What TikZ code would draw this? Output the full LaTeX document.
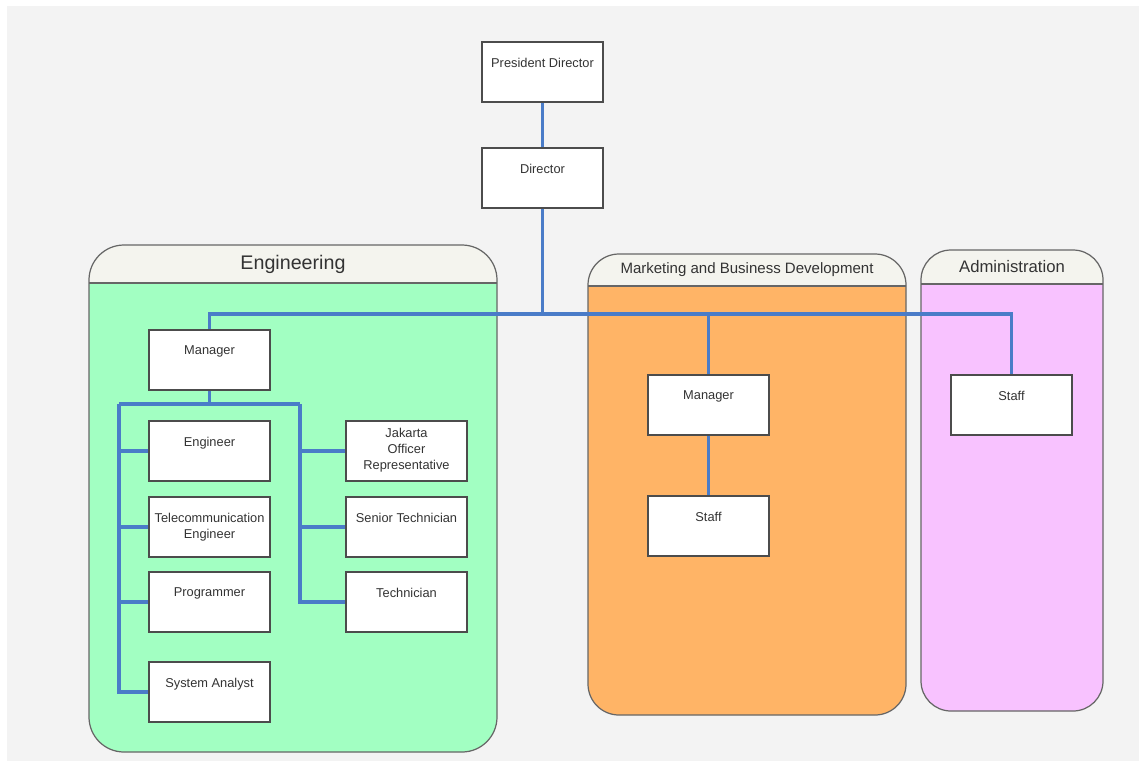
\documentclass[tikz,border=0pt]{standalone}
\usepackage{fontspec}
\setmainfont{Liberation Sans}
\usetikzlibrary{positioning}
\pgfdeclarelayer{background}
\pgfsetlayers{background,main}
\definecolor{bggray}{HTML}{F3F3F3}
\definecolor{engfill}{HTML}{A2FFC2}
\definecolor{mktfill}{HTML}{FFB466}
\definecolor{admfill}{HTML}{F8C2FF}
\definecolor{headfill}{HTML}{F4F4EE}
\definecolor{linkblue}{HTML}{4A7CC8}
\definecolor{inkgray}{HTML}{333333}
\tikzstyle{post}=[draw=black!70, fill=white, line width=0.8pt, minimum width=2.42cm, minimum height=1.2cm, inner sep=0pt]
\tikzstyle{post text}=[anchor=north, align=center, text=inkgray, font=\fontsize{7.3}{9.1}\selectfont, inner sep=0pt, yshift=-0.33cm]
\tikzstyle{edge}=[draw=linkblue, line width=2pt]
\tikzstyle{panel}=[draw=black!60, line width=0.7pt]
\tikzstyle{title}=[text=inkgray, inner sep=0pt]

\begin{document}
\begin{tikzpicture}[x=0.02cm, y=-0.02cm]
    \useasboundingbox (0,0) rectangle (1139,761);
    % Draw the department panels
    \begin{pgfonlayer}{background}
        \fill[bggray] (7,6) rectangle (1139,761);
        \foreach \xa/\ya/\xb/\yb/\yh/\col/\rad/\fs/\name/\txt in {89/245/497/752/283/engfill/0.7cm/11.2/eng/Engineering, 588/254/906/715/286/mktfill/0.62cm/8.55/mkt/Marketing and Business Development, 921/250/1103/711/284/admfill/0.6cm/9.5/adm/Administration}
        {
            \fill[\col, rounded corners=\rad] (\xa,\ya) rectangle (\xb,\yb);
            \begin{scope}
                \clip[rounded corners=\rad] (\xa,\ya) rectangle (\xb,\yb);
                \fill[headfill] (\xa,\ya) rectangle (\xb,\yh);
            \end{scope}
            \draw[panel, rounded corners=\rad] (\xa,\ya) rectangle (\xb,\yb);
            \draw[panel] (\xa,\yh) -- (\xb,\yh);
            \node[title, font=\fontsize{\fs}{\fs}\selectfont] (\name title) at ({(\xa+\xb)/2},{(\ya+\yh)/2}) {\txt};
        }
    \end{pgfonlayer}

    % Then the posts
    \foreach \pos/\name/\txt in {{(542.5,72)/pres/President Director}, {(542.5,178)/dir/Director},
        {(209.5,360)/engman/Manager}, {(209.5,451)/engr/Engineer}, {(209.5,527)/tele/{Telecommunication\\Engineer}},
        {(209.5,602)/prog/Programmer}, {(209.5,692)/sysan/System Analyst},
        {(406.5,527)/sentech/Senior Technician}, {(406.5,602)/tech/Technician},
        {(708.5,405)/mktman/Manager}, {(708.5,526)/mktstaff/Staff}, {(1011.5,405)/admstaff/Staff}}
        \node[post, label={[post text]north:\txt}] (\name) at \pos {};

    \node[post, label={[post text, yshift=0.18cm]north:{Jakarta\\Officer\\Representative}}] (jak) at (406.5,451) {};

    % Connect posts with lines
    \coordinate (bus) at (542.5,314);
    \coordinate (engbus) at (209.5,404);
    \coordinate (lbus) at (119,404);
    \coordinate (rbus) at (300,404);
    \path[edge] (pres) -- (dir);
    \path[edge] (dir) -- (bus);
    \foreach \dest in {engman, mktman, admstaff}
        \path[edge] (bus) -| (\dest);
    \path[edge] (mktman) -- (mktstaff);
    \path[edge] (engman) -- (engbus);
    \path[edge] (lbus) -- (rbus);
    \foreach \dest in {engr, tele, prog, sysan}
        \path[edge] (lbus) |- (\dest);
    \foreach \dest in {jak, sentech, tech}
        \path[edge] (rbus) |- (\dest);

\end{tikzpicture}
\end{document}
